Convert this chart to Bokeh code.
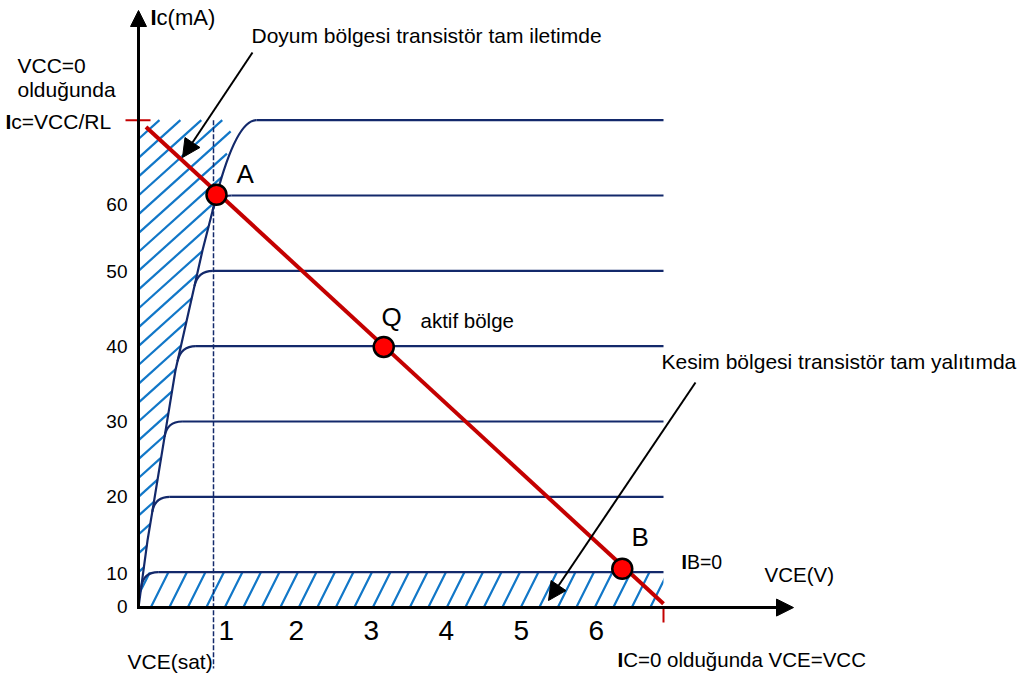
import numpy as np
from bokeh.plotting import figure
from bokeh.models import Arrow, NormalHead, Label, ColumnDataSource, Range1d
from bokeh.embed import file_html
from bokeh.resources import INLINE
from bokeh.core.properties import value

# ---------------- data ----------------
ib_levels = [10, 20, 30, 40, 50, 60]          # Ic level of each IB curve (mA)
top_level = 70                                 # Ic = VCC/RL (mA)
vcc = 7.0                                      # VCE at cut-off (V)
vce_sat = 1.0                                  # VCE(sat) (V)
ic_axis0 = 5.3                                 # where the drawn "0" baseline sits

# saturation envelope (rising part of the curves)
env_vce = [0.0, 0.063, 0.12, 0.187, 0.427, 0.493, 0.853, 1.04]
env_ic = [5.3, 10.0, 14.2, 18.2, 32.8, 36.8, 52.7, 60.0]
# top curve bend (from A up to the 70 mA level)
top_bend_vce = [1.04, 1.307, 1.573]
top_bend_ic = [60.0, 70.0, 70.0]
# right edge of the hatched saturation region
sat_edge_vce = env_vce + [1.16, 1.253]
sat_edge_ic = env_ic + [64.4, 70.0]

# load line
load_vce = [0.1, 7.0]
load_ic = [69.1, 5.8]

# operating points
pt_names = ["A", "Q", "B"]
pt_vce = [1.04, 3.27, 6.45]
pt_ic = [60.1, 39.9, 10.45]

# ticks
xtick_vals = [1, 2, 3, 4, 5, 6]
xtick_labels = ["1", "2", "3", "4", "5", "6"]
ytick_vals = [5.3, 10, 20, 30, 40, 50, 60]
ytick_labels = ["0", "10", "20", "30", "40", "50", "60"]

# ---------------- helpers for annotation placement ----------------
def sx(px):
    return (px - 138) / 75.0

def sy(py):
    return (647 - py) / 7.533

W, H = 1021, 677
FONT_NAME = "Liberation Sans"
FONT = value(FONT_NAME)
NAVY = "#13296b"
HATCH = "#1177c8"
RED = "#c40000"

p = figure(width=W, height=H, min_border=0,
           x_range=Range1d(sx(0), sx(W)), y_range=Range1d(sy(H), sy(0)),
           x_axis_location=None, y_axis_location=None,
           toolbar_location=None, output_backend="svg")
p.outline_line_color = None
p.grid.grid_line_color = None
p.background_fill_color = "white"
p.border_fill_color = "white"

# ---- hatch of saturation region: diagonal strokes clipped to the region ----
hatch_step = 2.5          # mA between strokes along the Ic axis
hatch_slope = 8.96        # mA per V (about 42 degrees on screen)
h_x0, h_y0, h_x1, h_y1 = [], [], [], []
vgrid = np.linspace(0, 1.4, 2801)
for start in np.arange(7.5, top_level, hatch_step):
    ic_line = np.minimum(start + hatch_slope * vgrid, top_level)
    edge = np.interp(ic_line, sat_edge_ic, sat_edge_vce)
    stop = np.argmax((vgrid >= edge) | (start + hatch_slope * vgrid >= top_level))
    h_x0.append(0.0)
    h_y0.append(start)
    h_x1.append(vgrid[stop])
    h_y1.append(ic_line[stop])
p.segment(x0=h_x0, y0=h_y0, x1=h_x1, y1=h_y1, line_color=HATCH, line_width=2.2)

# hatch of cut-off region
p.quad(left=[0], right=[vcc], bottom=[ic_axis0], top=[ib_levels[0]],
       fill_color=None, line_color=None,
       hatch_pattern="/", hatch_color=HATCH, hatch_weight=2.2, hatch_scale=37)

# characteristic curves
p.line(env_vce, env_ic, line_color=NAVY, line_width=2.2, line_join="round")
knees = np.interp(ib_levels, env_ic, env_vce)
starts_ic = [l - 2.0 for l in ib_levels]
starts_vce = np.interp(starts_ic, env_ic, env_vce)
ends_vce = knees + 0.2
p.quadratic(x0=starts_vce, y0=starts_ic, cx=knees, cy=ib_levels,
            x1=ends_vce, y1=ib_levels, line_color=NAVY, line_width=2.2)
p.segment(x0=ends_vce, y0=ib_levels, x1=[vcc] * len(ib_levels), y1=ib_levels,
          line_color=NAVY, line_width=2.2)
p.quadratic(x0=[top_bend_vce[0]], y0=[top_bend_ic[0]], cx=[top_bend_vce[1]], cy=[top_bend_ic[1]],
            x1=[top_bend_vce[2]], y1=[top_bend_ic[2]], line_color=NAVY, line_width=2.2)
p.segment(x0=[top_bend_vce[2]], y0=[top_level], x1=[vcc], y1=[top_level],
          line_color=NAVY, line_width=2.2)

# VCE(sat) dashed line
p.line([vce_sat, vce_sat], [top_level, sy(668)], line_color=NAVY, line_width=1.5,
       line_dash="5 2")

# red ticks: Ic = VCC/RL and VCE = VCC
p.line([sx(125), sx(150)], [top_level, top_level], line_color=RED, line_width=2)
p.line([vcc, vcc], [ic_axis0, sy(622)], line_color=RED, line_width=2)

# load line
p.line(load_vce, load_ic, line_color=RED, line_width=4)

# operating points
p.scatter(pt_vce, pt_ic, size=20, fill_color="#ff0000", line_color="black", line_width=2.5)

# axes with arrows
p.add_layout(Arrow(x_start=0, y_start=sy(608.5), x_end=0, y_end=sy(10),
                   line_width=3, line_color="black",
                   end=NormalHead(size=16, fill_color="black", line_color="black", line_width=1)))
p.add_layout(Arrow(x_start=sx(136.5), y_start=ic_axis0, x_end=sx(793), y_end=ic_axis0,
                   line_width=3, line_color="black",
                   end=NormalHead(size=17, fill_color="black", line_color="black", line_width=1)))

# annotation arrows
p.add_layout(Arrow(x_start=sx(252), y_start=sy(52), x_end=sx(182), y_end=sy(157),
                   line_width=2, line_color="black",
                   end=NormalHead(size=18, fill_color="black", line_color="black", line_width=1)))
p.add_layout(Arrow(x_start=sx(695), y_start=sy(382), x_end=sx(548), y_end=sy(600),
                   line_width=2, line_color="black",
                   end=NormalHead(size=18, fill_color="black", line_color="black", line_width=1)))

# text baseline compensation (fraction of font size)
K = 0.35

# tick labels
ysrc = ColumnDataSource(dict(x=[sx(127)] * len(ytick_vals), y=ytick_vals, t=ytick_labels,
                             off=[o - K * 19 for o in [6, 8, 6, 7, 7, 7, 16]]))
p.text(x="x", y="y", text="t", y_offset="off", source=ysrc, text_font=FONT,
       text_font_size=value("19px"), text_align="right", text_baseline="alphabetic",
       text_color="black")
xsrc = ColumnDataSource(dict(x=xtick_vals, y=[sy(640 - K * 28)] * len(xtick_vals), t=xtick_labels,
                             off=[5, 0, 0, 0, 0, 0]))
p.text(x="x", y="y", text="t", x_offset="off", source=xsrc, text_font=FONT,
       text_font_size=value("28px"), text_align="left", text_baseline="alphabetic",
       text_color="black")

def lab(px, py, txt, size=21, bold_i=False):
    y = sy(py - K * size)
    p.add_layout(Label(x=sx(px), y=y, text=txt, text_font=FONT_NAME, text_font_size=f"{size}px",
                       text_baseline="alphabetic", text_color="black"))
    if bold_i:
        p.add_layout(Label(x=sx(px), y=y, text="I", text_font=FONT_NAME, text_font_size=f"{size}px",
                           text_font_style="bold", text_baseline="alphabetic",
                           text_color="black"))

# point names
name_pos = [(236, 183), (381, 326), (631, 546)]
for n, (px, py) in zip(pt_names, name_pos):
    lab(px, py, n, 26)

lab(150, 25, "Ic(mA)", 22, True)
lab(251, 42, "Doyum bölgesi transistör tam iletimde")
lab(17, 72.5, "VCC=0")
lab(17, 96.5, "olduğunda")
lab(5, 128, "Ic=VCC/RL", bold_i=True)
lab(420, 327, "aktif bölge", 20.5)
lab(681, 568, "IB=0", 19.5, True)
lab(764, 581.5, "VCE(V)", 20.5)
lab(661, 368, "Kesim bölgesi transistör tam yalıtımda")
lab(617, 666, "IC=0 olduğunda VCE=VCC", 20.5, True)
lab(127, 668, "VCE(sat)")

open("out.html", "w").write(file_html(p, INLINE))
